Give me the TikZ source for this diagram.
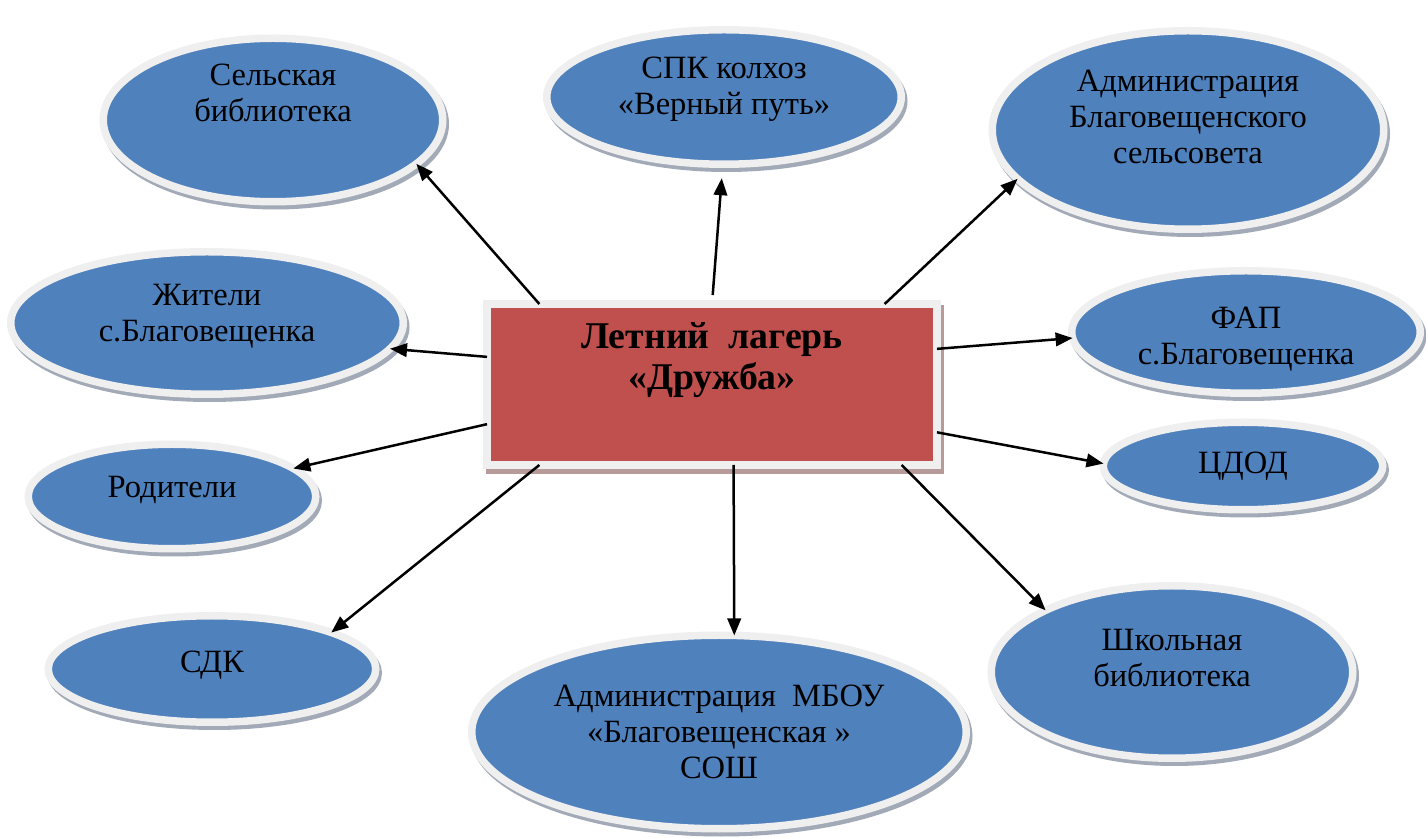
\documentclass[tikz,border=0pt]{standalone}
\usepackage{fontspec}
\setmainfont{Liberation Serif}
\usetikzlibrary{shapes.geometric,arrows.meta}
\definecolor{bubblue}{HTML}{4F81BD}
\definecolor{ringgray}{HTML}{EFEFEF}
\definecolor{bubshade}{HTML}{A2AAB7}
\definecolor{camprd}{HTML}{C0504D}
\definecolor{campshade}{HTML}{B79A9A}

\begin{document}
\begin{tikzpicture}
        \tikzstyle{every node}=[font=\fontsize{18.5}{20.5}\selectfont]
        \tikzstyle{bubble}=[ellipse, fill=bubblue, draw=ringgray, line width=0.15cm, inner sep=0pt, outer sep=0pt,
            preaction={fill=bubshade, draw=bubshade, line width=0.15cm, transform canvas={xshift=0.05cm, yshift=-0.08cm}}]
        \tikzstyle{camp}=[rectangle, fill=camprd, draw=ringgray, line width=0.15cm, inner sep=0pt, outer sep=0pt,
            preaction={fill=campshade, draw=campshade, line width=0.15cm, transform canvas={xshift=0.06cm, yshift=-0.1cm}}]
        \tikzstyle{bubtext}=[align=center, inner sep=0pt]
        \tikzstyle{link}=[-{Triangle[length=0.34cm, width=0.27cm]}, line width=0.05cm]

        \useasboundingbox (0,0) rectangle (28.52,16.74);

        \node[camp, minimum width=9cm, minimum height=3.22cm] (camp) at (14.24,9.05) {};
        \node[bubtext, font=\fontsize{21.5}{23}\selectfont\bfseries] (camp-t) at ([yshift=0.49cm]camp.center)
            {Летний\ \ лагерь\\«Дружба»};

        \node[bubble, minimum width=6.79cm, minimum height=3.27cm] (library) at (5.46,14.34) {};
        \node[bubtext] (library-t) at ([yshift=0.54cm]library.center) {Сельская\\библиотека};

        \node[bubble, minimum width=7.09cm, minimum height=2.69cm] (kolkhoz) at (14.48,14.80) {};
        \node[bubtext] (kolkhoz-t) at ([yshift=0.16cm]kolkhoz.center) {СПК колхоз\\«Верный путь»};

        \node[bubble, minimum width=7.83cm, minimum height=3.97cm] (admin) at (23.76,14.14) {};
        \node[bubtext] (admin-t) at ([yshift=0.26cm]admin.center) {Администрация\\Благовещенского\\сельсовета};

        \node[bubble, minimum width=7.85cm, minimum height=2.85cm] (residents) at (4.14,10.28) {};
        \node[bubtext] (residents-t) at ([yshift=0.14cm]residents.center) {Жители\\с.Благовещенка};

        \node[bubble, minimum width=6.97cm, minimum height=2.45cm] (fap) at (24.92,10.10) {};
        \node[bubtext] (fap-t) at ([yshift=-0.14cm]fap.center) {ФАП\\с.Благовещенка};

        \node[bubble, minimum width=5.75cm, minimum height=2.09cm] (parents) at (3.44,6.81) {};
        \node[bubtext] (parents-t) at ([yshift=0.12cm]parents.center) {Родители};

        \node[bubble, minimum width=5.59cm, minimum height=1.75cm] (cdod) at (24.86,7.42) {};
        \node[bubtext] (cdod-t) at (cdod.center) {ЦДОД};

        \node[bubble, minimum width=6.55cm, minimum height=2.13cm] (sdk) at (4.24,3.36) {};
        \node[bubtext] (sdk-t) at ([yshift=0.08cm]sdk.center) {СДК};

        \node[bubble, minimum width=9.89cm, minimum height=3.87cm] (school) at (14.38,2.10) {};
        \node[bubtext] (school-t) at (school.center) {Администрация\ \ МБОУ\\«Благовещенская »\\СОШ};

        \node[bubble, minimum width=7.23cm, minimum height=3.45cm] (schoollib) at (23.44,3.30) {};
        \node[bubtext] (schoollib-t) at ([yshift=0.28cm]schoollib.center) {Школьная\\библиотека};

        \draw[link] (camp.155) -- (library.-17);
        \draw[link, shorten <=0.18cm, shorten >=0.28cm] (camp.90) -- (kolkhoz.-91);
        \draw[link] (camp.25) -- (admin.196);
        \draw[link] (camp.173) -- (residents.-8);
        \draw[link] (camp.9) -- (fap.182);
        \draw[link] (camp.190) -- (parents.13);
        \draw[link] (camp.-12) -- (cdod.179);
        \draw[link] (camp.205) -- (sdk.17);
        \draw[link] (camp.-75) -- (school.81);
        \draw[link] (camp.-23) -- (schoollib.154);
\end{tikzpicture}
\end{document}
